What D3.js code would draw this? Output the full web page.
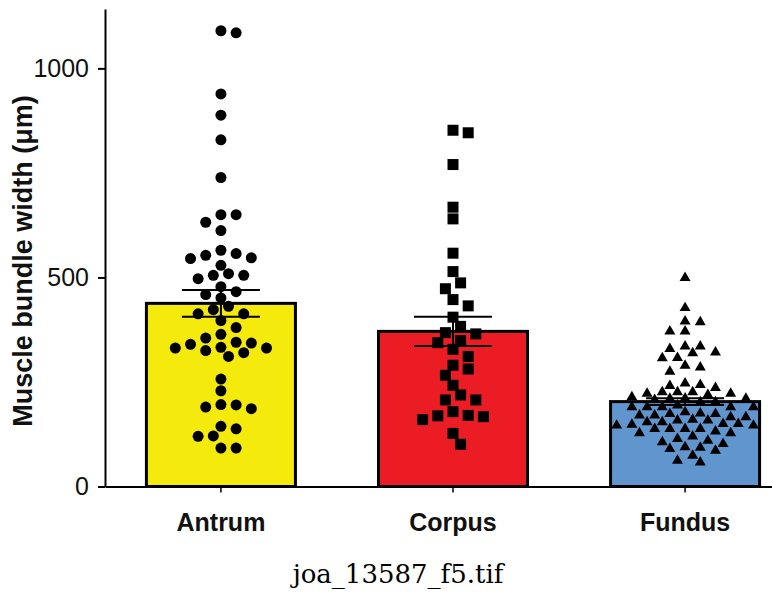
<!DOCTYPE html>
<html>
<head>
<meta charset="utf-8">
<script src="https://cdn.jsdelivr.net/npm/d3@7"></script>
<style>
  body { margin: 0; background: #fff; }
</style>
</head>
<body>
<svg id="chart" width="772" height="603"></svg>
<script>
// categories and bar summary (mean +/- SEM)
const categories = ['Antrum', 'Corpus', 'Fundus'];
const barMeans = [438, 371, 203];
const barSem = [32, 35, 8];
const barColors = ['#f4ea0c', '#ec1c24', '#6096cd'];

const antrumValues = [1085, 1090, 939, 888, 829, 739, 650, 650, 632, 612, 557, 547, 545, 553, 565,
    529, 505, 497, 505, 509, 478, 459, 451, 466, 431, 413, 397, 413, 423, 364, 355, 380,
    345, 340, 331, 325, 311, 320, 331, 333, 343, 257, 229, 195, 186, 190, 196, 144, 138,
    120, 121, 92, 92];
const corpusValues = [846, 852, 770, 668, 640, 558, 514, 487, 473, 447, 432, 405, 383, 365, 368,
    344, 349, 328, 311, 281, 290, 266, 242, 219, 207, 207, 170, 167, 160, 169, 179, 127, 101];
const fundusValues = [499, 427, 395, 393, 371, 371, 335, 329, 319, 321, 335, 307, 308, 285, 275, 289,
    243, 236, 226, 222, 219, 222, 226, 226, 241, 247,
    211, 202, 190, 190, 190, 210, 210, 190, 190, 194, 202, 207, 214,
    174, 170, 166, 158, 154, 150, 148, 146, 138, 138, 146, 150, 154, 158, 160, 166, 170, 175, 178, 174,
    138, 132, 128, 114, 106, 102, 110, 120, 128, 138,
    94, 90, 74, 58, 62, 86, 93];
const groupValues = [antrumValues, corpusValues, fundusValues];
const markerTypes = [d3.symbolCircle, d3.symbolSquare, d3.symbolTriangle];

const yTicks = [0, 500, 1000];
const yTitle = 'Muscle bundle width (\u03bcm)';
const caption = 'joa_13587_f5.tif';

// svg constants
const svg = d3.select('#chart');

const y = d3.scaleLinear()
    .domain([0, 1142])
    .range([486.5, 9]);

const x = d3.scaleBand()
    .domain(categories)
    .range([105, 801])
    .paddingInner(0.345)
    .paddingOuter(0.172);

// bars
svg.selectAll('rect.bar')
    .data(categories)
    .enter()
    .append('rect')
    .attr('class', 'bar')
    .attr('x', d => x(d) + 1.5)
    .attr('width', x.bandwidth() - 3)
    .attr('y', (d, i) => y(barMeans[i]))
    .attr('height', (d, i) => y(0) - y(barMeans[i]))
    .attr('fill', (d, i) => barColors[i])
    .attr('stroke', '#000')
    .attr('stroke-width', 3);

// error bars
const capHalf = 39;
categories.forEach(function (c, i) {
    const cx = x(c) + x.bandwidth() / 2;
    const top = y(barMeans[i] + barSem[i]);
    const bottom = y(barMeans[i] - barSem[i]);
    const g = svg.append('g')
        .attr('stroke', '#000')
        .attr('stroke-width', 2);
    g.append('line').attr('x1', cx).attr('x2', cx).attr('y1', top).attr('y2', bottom);
    g.append('line').attr('x1', cx - capHalf).attr('x2', cx + capHalf).attr('y1', top).attr('y2', top);
    g.append('line').attr('x1', cx - capHalf).attr('x2', cx + capHalf).attr('y1', bottom).attr('y2', bottom);
});

// simple greedy beeswarm so points don't overlap
function swarm(values, cx, step, minDist) {
    const placed = [];
    values.slice().sort((a, b) => b - a).forEach(function (v) {
        const py = y(v);
        for (let k = 0; k < 60; k++) {
            const off = k === 0 ? 0 : (k % 2 ? 1 : -1) * Math.ceil(k / 2) * step;
            const px = cx + off;
            const free = placed.every(q => Math.hypot(q.x - px, q.y - py) >= minDist);
            if (free) {
                placed.push({ v: v, x: px, y: py });
                break;
            }
        }
    });
    return placed;
}

const markerSizes = [95, 121, 52];
const markerDist = [11, 11.5, 9.8];
categories.forEach(function (c, i) {
    const cx = x(c) + x.bandwidth() / 2;
    const pts = swarm(groupValues[i], cx, 7.6, markerDist[i]);
    svg.append('g')
        .selectAll('path')
        .data(pts)
        .enter()
        .append('path')
        .attr('transform', d => 'translate(' + d.x + ',' + d.y + ')')
        .attr('d', d3.symbol().type(markerTypes[i]).size(markerSizes[i]))
        .attr('fill', '#000');
});

// y axis
const yAxis = svg.append('g')
    .attr('transform', 'translate(105,0)')
    .call(d3.axisLeft(y).tickValues(yTicks).tickFormat(d3.format('d'))
        .tickSize(7).tickSizeOuter(0).tickPadding(9));
yAxis.select('.domain').attr('stroke-width', 2);
yAxis.selectAll('.tick line').attr('stroke-width', 2);
yAxis.selectAll('.tick text')
    .attr('font-family', 'Liberation Sans, Arial, sans-serif')
    .attr('font-size', 25)
    .attr('fill', '#111');

// x axis
const xAxis = svg.append('g')
    .attr('transform', 'translate(0,' + y(0) + ')')
    .call(d3.axisBottom(x).tickSize(6).tickSizeOuter(0));
xAxis.select('.domain').attr('stroke-width', 2);
xAxis.selectAll('.tick line').attr('stroke-width', 1.5);
xAxis.selectAll('.tick text')
    .attr('y', 44)
    .attr('dy', 0)
    .attr('font-family', 'Liberation Sans, Arial, sans-serif')
    .attr('font-weight', 'bold')
    .attr('font-size', 25)
    .attr('fill', '#111');

// y title
svg.append('text')
    .attr('transform', 'translate(32,261) rotate(-90)')
    .attr('text-anchor', 'middle')
    .attr('font-family', 'Liberation Sans, Arial, sans-serif')
    .attr('font-weight', 'bold')
    .attr('font-size', 27)
    .attr('fill', '#111')
    .text(yTitle);

// caption under the figure
svg.append('text')
    .attr('x', 398)
    .attr('y', 583)
    .attr('text-anchor', 'middle')
    .attr('font-family', 'DejaVu Serif, serif')
    .attr('font-size', 26)
    .attr('fill', '#000')
    .text(caption);
</script>
</body>
</html>
